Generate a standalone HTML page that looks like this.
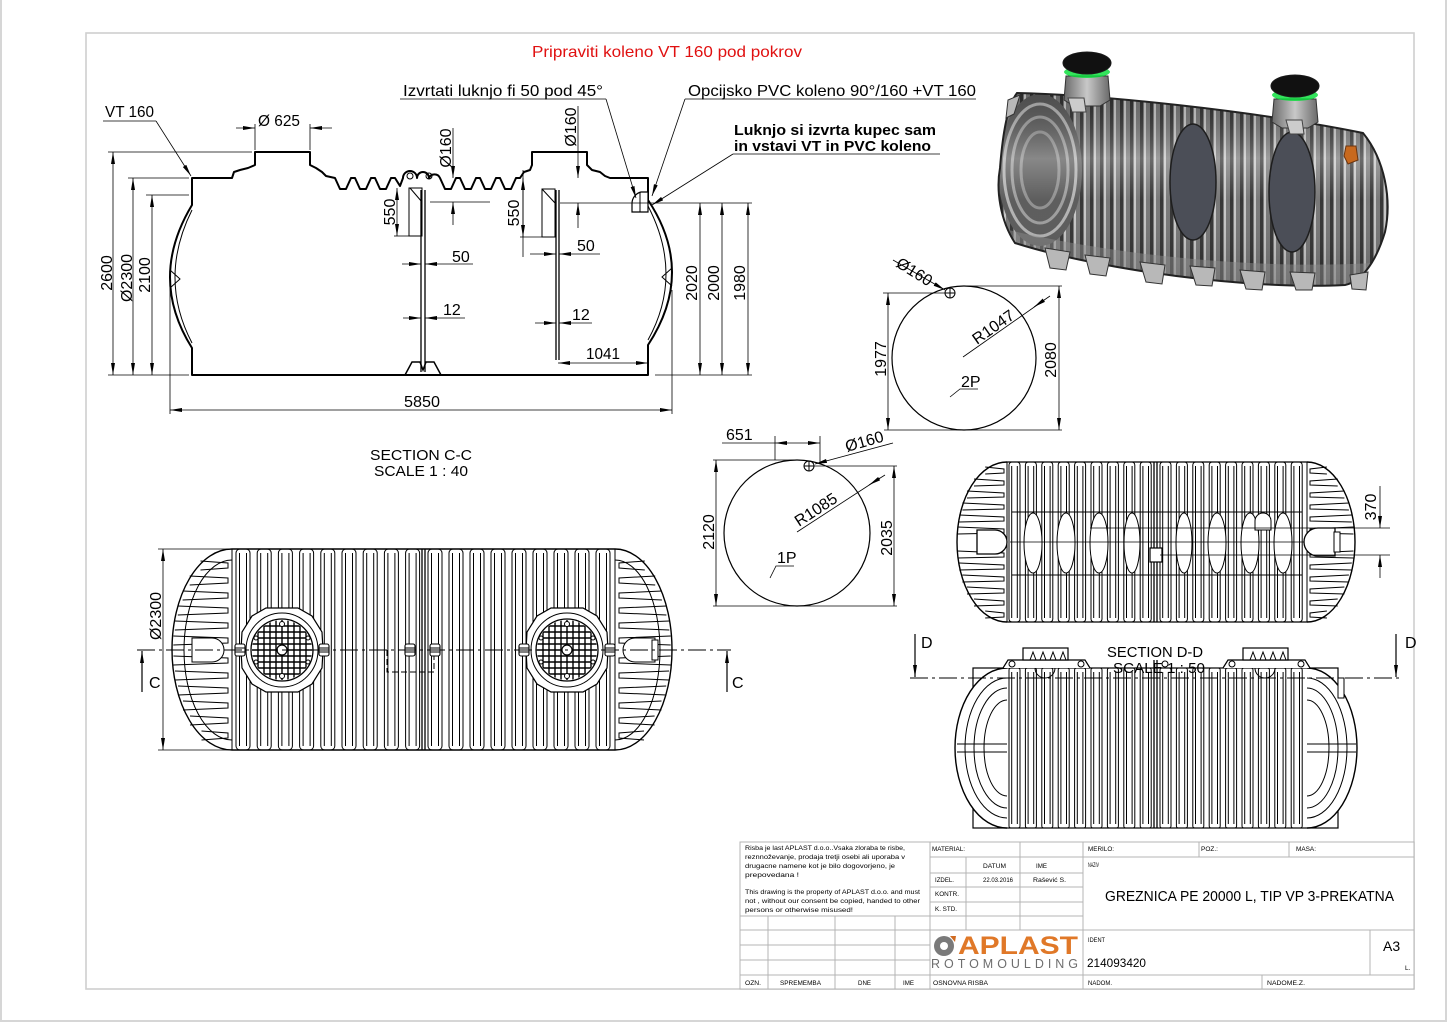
<!DOCTYPE html>
<html><head><meta charset="utf-8"><style>
html,body{margin:0;padding:0;background:#fff;}
svg{display:block;}
text{font-family:"Liberation Sans",sans-serif;fill:#000;}
</style></head><body>
<svg width="1448" height="1024" viewBox="0 0 1448 1024" xmlns="http://www.w3.org/2000/svg">
<defs>
<marker id="ar" viewBox="0 0 12 4" refX="12" refY="2" markerWidth="12" markerHeight="4" markerUnits="userSpaceOnUse" orient="auto-start-reverse"><path d="M0,0 L12,2 L0,4 Z" fill="#000"/></marker>
<pattern id="st" patternUnits="userSpaceOnUse" width="10" height="400"><rect width="10" height="400" fill="#727272"/><rect x="0" width="3" height="400" fill="#2c2c2c"/><rect x="4" width="2" height="400" fill="#c4c4c4"/></pattern>
<linearGradient id="sh" x1="0" y1="0" x2="0" y2="1"><stop offset="0" stop-color="#000" stop-opacity=".1"/><stop offset=".35" stop-color="#fff" stop-opacity=".3"/><stop offset=".55" stop-color="#fff" stop-opacity=".05"/><stop offset="1" stop-color="#000" stop-opacity=".2"/></linearGradient>
<linearGradient id="nk" x1="0" y1="0" x2="1" y2="0"><stop offset="0" stop-color="#6a6a6a"/><stop offset=".5" stop-color="#c8c8c8"/><stop offset="1" stop-color="#6a6a6a"/></linearGradient>
<clipPath id="tk"><path d="M1017,93 C1100,95 1250,110 1363,133 C1385,160 1392,200 1385,232 C1375,265 1360,282 1345,285 C1250,290 1100,270 1015,243 C1000,220 996,190 1000,168 C1003,130 1008,105 1017,93 Z"/></clipPath>
<clipPath id="gc"><circle cx="0" cy="0" r="30"/></clipPath>
<g id="rb"><rect x="0" y="549" width="14" height="201" rx="4"/><line x1="3.5" y1="553" x2="3.5" y2="746"/><line x1="10.5" y1="553" x2="10.5" y2="746"/></g>
<g id="rt"><rect x="0" y="462" width="11" height="160" rx="3"/><line x1="2.7" y1="466" x2="2.7" y2="618"/><line x1="8.3" y1="466" x2="8.3" y2="618"/></g>
<g id="rd"><rect x="0" y="668" width="11" height="160" rx="2"/><line x1="2.7" y1="672" x2="2.7" y2="824"/><line x1="8.3" y1="672" x2="8.3" y2="824"/></g>
<g id="mh">
<path d="M-16,-42 L16,-42 L30,-34 L40,-18 L41,0 L40,18 L30,34 L16,42 L-16,42 L-30,34 L-40,18 L-41,0 L-40,-18 L-30,-34 Z" fill="#fff" stroke="#000" stroke-width="1.2"/>
<ellipse cx="0" cy="0" rx="36" ry="37" fill="none" stroke="#000" stroke-width="1"/>
<circle cx="0" cy="0" r="31" fill="#fff" stroke="#000" stroke-width="1.3"/>
<g clip-path="url(#gc)" stroke="#000" stroke-width="1.4">
<line x1="-31" y1="-24" x2="31" y2="-24"/><line x1="-31" y1="-18" x2="31" y2="-18"/><line x1="-31" y1="-12" x2="31" y2="-12"/><line x1="-31" y1="-6" x2="31" y2="-6"/><line x1="-31" y1="0" x2="31" y2="0"/><line x1="-31" y1="6" x2="31" y2="6"/><line x1="-31" y1="12" x2="31" y2="12"/><line x1="-31" y1="18" x2="31" y2="18"/><line x1="-31" y1="24" x2="31" y2="24"/>
<line x1="-24" y1="-31" x2="-24" y2="31"/><line x1="-18" y1="-31" x2="-18" y2="31"/><line x1="-12" y1="-31" x2="-12" y2="31"/><line x1="-6" y1="-31" x2="-6" y2="31"/><line x1="0" y1="-31" x2="0" y2="31"/><line x1="6" y1="-31" x2="6" y2="31"/><line x1="12" y1="-31" x2="12" y2="31"/><line x1="18" y1="-31" x2="18" y2="31"/><line x1="24" y1="-31" x2="24" y2="31"/>
</g>
<circle cx="0" cy="0" r="5" fill="#fff" stroke="#000" stroke-width="1.2"/>
<circle cx="0" cy="-26" r="2.5" fill="#fff" stroke="#000"/><circle cx="0" cy="26" r="2.5" fill="#fff" stroke="#000"/>
<circle cx="-26" cy="-12" r="2" fill="#fff" stroke="#000"/><circle cx="26" cy="-12" r="2" fill="#fff" stroke="#000"/><circle cx="-26" cy="12" r="2" fill="#fff" stroke="#000"/><circle cx="26" cy="12" r="2" fill="#fff" stroke="#000"/>
</g>
<g id="cn"><rect x="-5" y="-6" width="10" height="12" rx="2" fill="#fff" stroke="#000" stroke-width="1.1"/><line x1="-5" y1="-2" x2="5" y2="-2" stroke="#000"/><line x1="-5" y1="2" x2="5" y2="2" stroke="#000"/></g>
</defs>

<rect x="0" y="0" width="1448" height="1024" fill="#fff"/>
<path d="M1,0 L1,1021 L1446,1021 L1446,0" fill="none" stroke="#d6d6d6" stroke-width="2"/>
<rect x="86" y="33" width="1328" height="956" fill="none" stroke="#cfcfcf" stroke-width="1.6"/>

<text x="532" y="57" font-size="16" fill="#e01010" style="fill:#e01010" textLength="270" lengthAdjust="spacingAndGlyphs">Pripraviti koleno VT 160 pod pokrov</text>

<!-- ================= SECTION C-C ================= -->
<g fill="none" stroke="#000" stroke-width="2" stroke-linejoin="round">
<path d="M192,178 L232,178 L234,172 L240,170 L248,168 L255,165 L255,152 L310,152 L310,165 L316,168 L322,172 L326,176 L335,178 L340,189 L346,189 L351,178 L355,178 L360,189 L366,189 L371,178 L375,178 L380,189 L386,189 L391,178 L395,178 L400,186 L403,178 A7,7 0 0 1 417,178 A6,6 0 0 1 429,178 A6,6 0 0 1 440,178 L445,189 L451,189 L456,178 L460,178 L465,189 L471,189 L476,178 L480,178 L485,189 L491,189 L496,178 L500,178 L505,189 L511,189 L516,178 L520,178 L524,172 L530,170 L532,165 L532,152 L587,152 L587,165 L592,170 L600,172 L605,176 L610,178 L648,178 L648,200 Q696,272 648,345 L648,375 L192,375 L192,348 Q148,278 192,205 Z"/>
</g>
<g fill="none" stroke="#000" stroke-width="1">
<path d="M648,206 Q684,275 648,340"/>
<path d="M192,210 Q158,278 192,343"/>
<path d="M170,270 L180,279 L170,288"/>
<path d="M672,268 L662,277 L672,286"/>
<line x1="421" y1="190" x2="421" y2="372" stroke-width="1.3"/><line x1="425" y1="190" x2="425" y2="372" stroke-width="1.3"/>
<path d="M405,375 L412,362 L420,362 L423,370 L426,362 L434,362 L441,375" stroke-width="1.5"/>
<rect x="409" y="188" width="13" height="48"/><line x1="410" y1="188" x2="422" y2="202"/>
<circle cx="410" cy="176" r="3"/><circle cx="429" cy="176" r="3"/>
<line x1="556" y1="190" x2="556" y2="360" stroke-width="1.3"/><line x1="559" y1="190" x2="559" y2="360" stroke-width="1.3"/>
<rect x="542" y="189" width="13" height="48"/><line x1="542" y1="189" x2="555" y2="203"/>
<path d="M648,192 L641,192 A12,12 0 0 0 632,204 L632,212 L648,212 Z" stroke-width="1.2" fill="#fff"/>
<line x1="640" y1="192" x2="640" y2="212"/>
<line x1="560" y1="203" x2="752" y2="203" stroke-width="0.8"/>
</g>

<g fill="none" stroke="#000" stroke-width="0.8">
<line x1="108" y1="152" x2="252" y2="152"/><line x1="128" y1="178" x2="189" y2="178"/><line x1="146" y1="195" x2="189" y2="195"/><line x1="108" y1="375" x2="189" y2="375"/>
<line x1="113" y1="152" x2="113" y2="375" marker-start="url(#ar)" marker-end="url(#ar)"/>
<line x1="133" y1="178" x2="133" y2="375" marker-start="url(#ar)" marker-end="url(#ar)"/>
<line x1="152" y1="195" x2="152" y2="375" marker-start="url(#ar)" marker-end="url(#ar)"/>
<line x1="255" y1="124" x2="255" y2="150"/><line x1="310" y1="124" x2="310" y2="150"/>
<line x1="236" y1="128" x2="255" y2="128" marker-end="url(#ar)"/><line x1="332" y1="128" x2="310" y2="128" marker-end="url(#ar)"/>
<line x1="170" y1="282" x2="170" y2="414"/><line x1="672" y1="290" x2="672" y2="414"/>
<line x1="170" y1="410" x2="672" y2="410" marker-start="url(#ar)" marker-end="url(#ar)"/>
<line x1="655" y1="375" x2="752" y2="375"/>
<line x1="700" y1="203" x2="700" y2="375" marker-start="url(#ar)" marker-end="url(#ar)"/>
<line x1="722" y1="203" x2="722" y2="375" marker-start="url(#ar)" marker-end="url(#ar)"/>
<line x1="748" y1="203" x2="748" y2="375" marker-start="url(#ar)" marker-end="url(#ar)"/>
<line x1="453" y1="128" x2="453" y2="178" marker-end="url(#ar)"/><line x1="453" y1="225" x2="453" y2="202" marker-end="url(#ar)"/>
<line x1="430" y1="202" x2="490" y2="202"/>
<line x1="578" y1="106" x2="578" y2="178" marker-end="url(#ar)"/><line x1="578" y1="228" x2="578" y2="203" marker-end="url(#ar)"/>
<line x1="397" y1="188" x2="397" y2="236" marker-start="url(#ar)" marker-end="url(#ar)"/>
<line x1="394" y1="236" x2="409" y2="236"/>
<line x1="523" y1="170" x2="523" y2="257"/>
<line x1="523" y1="178" x2="523" y2="237" marker-start="url(#ar)" marker-end="url(#ar)"/>
<line x1="520" y1="237" x2="542" y2="237"/>
<line x1="402" y1="264" x2="421" y2="264" marker-end="url(#ar)"/><line x1="473" y1="264" x2="425" y2="264" marker-end="url(#ar)"/>
<line x1="403" y1="318" x2="421" y2="318" marker-end="url(#ar)"/><line x1="465" y1="318" x2="425" y2="318" marker-end="url(#ar)"/>
<line x1="530" y1="254" x2="556" y2="254" marker-end="url(#ar)"/><line x1="600" y1="254" x2="559" y2="254" marker-end="url(#ar)"/>
<line x1="535" y1="323" x2="556" y2="323" marker-end="url(#ar)"/><line x1="592" y1="323" x2="559" y2="323" marker-end="url(#ar)"/>
<line x1="558" y1="363" x2="648" y2="363" marker-start="url(#ar)" marker-end="url(#ar)"/>
<line x1="103" y1="121" x2="156" y2="121"/><line x1="156" y1="121" x2="191" y2="176" marker-end="url(#ar)"/>
<line x1="400" y1="99" x2="606" y2="99"/><line x1="606" y1="99" x2="636" y2="198" marker-end="url(#ar)"/>
<line x1="685" y1="99" x2="976" y2="99"/><line x1="685" y1="99" x2="652" y2="196" marker-end="url(#ar)"/>
<line x1="733" y1="154" x2="940" y2="154"/><line x1="733" y1="154" x2="652" y2="205" marker-end="url(#ar)"/>
</g>
<g font-size="16">
<text x="105" y="117" textLength="49" lengthAdjust="spacingAndGlyphs">VT 160</text>
<text x="403" y="96" textLength="200" lengthAdjust="spacingAndGlyphs">Izvrtati luknjo fi 50 pod 45°</text>
<text x="688" y="96" textLength="288" lengthAdjust="spacingAndGlyphs">Opcijsko PVC koleno 90°/160 +VT 160</text>
<text x="734" y="135" font-weight="bold" font-size="15" textLength="202" lengthAdjust="spacingAndGlyphs">Luknjo si izvrta kupec sam</text>
<text x="734" y="151" font-weight="bold" font-size="15" textLength="197" lengthAdjust="spacingAndGlyphs">in vstavi VT in PVC koleno</text>
<text x="258" y="126" textLength="42" lengthAdjust="spacingAndGlyphs">Ø 625</text>
<text transform="translate(112,273) rotate(-90)" text-anchor="middle">2600</text>
<text transform="translate(132,278) rotate(-90)" text-anchor="middle">Ø2300</text>
<text transform="translate(150,275) rotate(-90)" text-anchor="middle">2100</text>
<text x="404" y="407" textLength="36" lengthAdjust="spacingAndGlyphs">5850</text>
<text transform="translate(451,148) rotate(-90)" text-anchor="middle">Ø160</text>
<text transform="translate(576,127) rotate(-90)" text-anchor="middle">Ø160</text>
<text transform="translate(395,212) rotate(-90)" text-anchor="middle">550</text>
<text transform="translate(519,213) rotate(-90)" text-anchor="middle">550</text>
<text x="452" y="262">50</text>
<text x="443" y="315">12</text>
<text x="577" y="251">50</text>
<text x="572" y="320">12</text>
<text x="586" y="359" textLength="34" lengthAdjust="spacingAndGlyphs">1041</text>
<text transform="translate(697,283) rotate(-90)" text-anchor="middle">2020</text>
<text transform="translate(719,283) rotate(-90)" text-anchor="middle">2000</text>
<text transform="translate(745,283) rotate(-90)" text-anchor="middle">1980</text>
<text x="370" y="460" font-size="15" textLength="102" lengthAdjust="spacingAndGlyphs">SECTION C-C</text>
<text x="374" y="476" font-size="15" textLength="94" lengthAdjust="spacingAndGlyphs">SCALE 1 : 40</text>
</g>

<!-- ================= 3D render ================= -->
<g>
<path d="M1017,93 C1100,95 1250,110 1363,133 C1385,160 1392,200 1385,232 C1375,265 1360,282 1345,285 C1250,290 1100,270 1015,243 C1000,220 996,190 1000,168 C1003,130 1008,105 1017,93 Z" fill="#6a6a6a"/>
<g clip-path="url(#tk)">
<rect x="995" y="85" width="400" height="210" fill="url(#st)"/>
<ellipse cx="1040" cy="170" rx="42" ry="76" fill="#555"/>
<ellipse cx="1040" cy="170" rx="36" ry="66" fill="none" stroke="#b0b0b0" stroke-width="3"/>
<ellipse cx="1040" cy="170" rx="28" ry="53" fill="none" stroke="#9a9a9a" stroke-width="3"/>
<ellipse cx="1040" cy="170" rx="19" ry="38" fill="none" stroke="#8c8c8c" stroke-width="3"/>
<rect x="995" y="85" width="400" height="210" fill="url(#sh)"/>
<path d="M1000,228 C1100,252 1250,272 1390,262 L1390,300 L1000,300 Z" fill="#8a8a8a" opacity=".5"/>
</g>
<path d="M1017,93 C1100,95 1250,110 1363,133 C1385,160 1392,200 1385,232 C1375,265 1360,282 1345,285 C1250,290 1100,270 1015,243 C1000,220 996,190 1000,168 C1003,130 1008,105 1017,93 Z" fill="none" stroke="#222" stroke-width="2"/>
<g fill="#b8b8b8" stroke="#333" stroke-width="1">
<path d="M1045,248 L1070,252 L1066,270 L1050,268 Z"/>
<path d="M1085,255 L1110,258 L1106,276 L1090,274 Z"/>
<path d="M1140,262 L1165,265 L1162,284 L1146,282 Z"/>
<path d="M1190,266 L1215,268 L1212,286 L1196,285 Z"/>
<path d="M1240,270 L1265,272 L1262,290 L1246,289 Z"/>
<path d="M1290,272 L1315,273 L1312,290 L1296,290 Z"/>
<path d="M1020,95 L1008,100 L1006,118 L1014,114 Z"/>
<path d="M1350,275 L1368,272 L1366,290 L1352,289 Z"/>
</g>
<ellipse cx="1193" cy="182" rx="23" ry="58" fill="#4b4e57" stroke="#1e1e1e" stroke-width="1.5"/>
<ellipse cx="1292" cy="192" rx="23" ry="60" fill="#4b4e57" stroke="#1e1e1e" stroke-width="1.5"/>
<path d="M1066,76 L1108,76 L1110,100 L1100,106 L1074,106 L1064,100 Z" fill="url(#nk)" stroke="#333"/>
<path d="M1068,98 L1084,98 L1086,112 L1072,112 Z" fill="#ccc" stroke="#444"/>
<ellipse cx="1087" cy="72" rx="23" ry="6" fill="#0d3" opacity=".8"/>
<ellipse cx="1087" cy="63" rx="24" ry="11" fill="#111" stroke="#1a1a1a"/>
<path d="M1274,99 L1316,99 L1318,122 L1308,128 L1282,128 L1272,122 Z" fill="url(#nk)" stroke="#333"/>
<path d="M1286,120 L1302,120 L1304,134 L1290,134 Z" fill="#ccc" stroke="#444"/>
<ellipse cx="1295" cy="95" rx="23" ry="6" fill="#0d3" opacity=".8"/>
<ellipse cx="1295" cy="86" rx="24" ry="11" fill="#111" stroke="#1a1a1a"/>
<path d="M1346,146 L1356,146 L1358,160 L1348,164 L1344,156 Z" fill="#c8691e" stroke="#6a3510"/>
</g>

<!-- ================= Circles ================= -->
<g fill="none" stroke="#000" stroke-width="1">
<circle cx="964" cy="358" r="72" stroke-width="1.2"/>
<line x1="883" y1="293" x2="945" y2="293" stroke-width="0.8"/>
<line x1="965" y1="286" x2="1062" y2="286" stroke-width="0.8"/>
<line x1="884" y1="430" x2="1062" y2="430" stroke-width="0.8"/>
<line x1="888" y1="293" x2="888" y2="430" stroke-width="0.8" marker-start="url(#ar)" marker-end="url(#ar)"/>
<line x1="1059" y1="286" x2="1059" y2="430" stroke-width="0.8" marker-start="url(#ar)" marker-end="url(#ar)"/>
<circle cx="950" cy="293" r="5"/><line x1="945" y1="293" x2="955" y2="293"/><line x1="950" y1="288" x2="950" y2="298"/>
<line x1="893" y1="260" x2="945" y2="290" stroke-width="0.8" marker-end="url(#ar)"/>
<line x1="963" y1="357" x2="1040" y2="303" stroke-width="0.8"/>
<line x1="1050" y1="296" x2="1034" y2="307" stroke-width="0.8" marker-end="url(#ar)"/>
<path d="M950,397 L960,389 L978,389" stroke-width="0.8"/>
<circle cx="797" cy="533" r="73" stroke-width="1.2"/>
<line x1="713" y1="460" x2="800" y2="460" stroke-width="0.8"/>
<line x1="813" y1="466" x2="897" y2="466" stroke-width="0.8"/>
<line x1="713" y1="606" x2="897" y2="606" stroke-width="0.8"/>
<line x1="716" y1="460" x2="716" y2="606" stroke-width="0.8" marker-start="url(#ar)" marker-end="url(#ar)"/>
<line x1="894" y1="466" x2="894" y2="606" stroke-width="0.8" marker-start="url(#ar)" marker-end="url(#ar)"/>
<line x1="775" y1="436" x2="775" y2="460" stroke-width="0.8"/><line x1="820" y1="436" x2="820" y2="462" stroke-width="0.8"/>
<line x1="722" y1="443" x2="775" y2="443" stroke-width="0.8"/>
<line x1="775" y1="443" x2="820" y2="443" stroke-width="0.8" marker-start="url(#ar)" marker-end="url(#ar)"/>
<circle cx="809" cy="466" r="5"/><line x1="804" y1="466" x2="814" y2="466"/><line x1="809" y1="461" x2="809" y2="471"/>
<line x1="893" y1="443" x2="815" y2="464" stroke-width="0.8" marker-end="url(#ar)"/>
<line x1="797" y1="532" x2="880" y2="478" stroke-width="0.8"/>
<line x1="885" y1="475" x2="869" y2="485" stroke-width="0.8" marker-end="url(#ar)"/>
<path d="M770,578 L776,566 L794,566" stroke-width="0.8"/>
</g>
<g font-size="16">
<text transform="translate(895,266) rotate(32)">Ø160</text>
<text transform="translate(977,345) rotate(-35)">R1047</text>
<text transform="translate(886,359) rotate(-90)" text-anchor="middle">1977</text>
<text transform="translate(1056,360) rotate(-90)" text-anchor="middle">2080</text>
<text x="961" y="387">2P</text>
<text x="726" y="440">651</text>
<text transform="translate(847,452) rotate(-16)">Ø160</text>
<text transform="translate(799,527) rotate(-33)">R1085</text>
<text transform="translate(714,532) rotate(-90)" text-anchor="middle">2120</text>
<text transform="translate(892,538) rotate(-90)" text-anchor="middle">2035</text>
<text x="777" y="563">1P</text>
</g>

<!-- ================= Plan view (bottom-left) ================= -->
<g fill="none" stroke="#000" stroke-width="1">
<path d="M232,549 A60,100.5 0 0 0 232,750" stroke-width="1.4"/>
<path d="M615,549 A57,100.5 0 0 1 615,750" stroke-width="1.4"/>
<path d="M232,560 A48,90 0 0 0 232,740"/>
<path d="M615,560 A45,90 0 0 1 615,740"/>
<line x1="232" y1="549" x2="615" y2="549" stroke-width="1.4"/>
<line x1="232" y1="750" x2="615" y2="750" stroke-width="1.4"/>
<line x1="232" y1="549" x2="232" y2="750"/><line x1="615" y1="549" x2="615" y2="750"/>
<use href="#rb" x="236"/><use href="#rb" x="257.2"/><use href="#rb" x="278.4"/><use href="#rb" x="299.6"/><use href="#rb" x="320.8"/><use href="#rb" x="342"/><use href="#rb" x="363.2"/><use href="#rb" x="384.4"/><use href="#rb" x="405.6"/>
<use href="#rb" x="428"/><use href="#rb" x="449"/><use href="#rb" x="470"/><use href="#rb" x="491"/><use href="#rb" x="512"/><use href="#rb" x="533"/><use href="#rb" x="554"/><use href="#rb" x="575"/><use href="#rb" x="596"/>
<line x1="422" y1="549" x2="422" y2="750" stroke-width="1.3"/><line x1="425" y1="549" x2="425" y2="750" stroke-width="1.3"/>
<path d="M200.5,561 L228,563 L228,568 L200.5,570"/><path d="M189.7,576 L228,578 L228,583 L189.7,585"/><path d="M182.6,591 L228,593 L228,598 L182.6,600"/><path d="M177.8,606 L228,608 L228,613 L177.8,615"/><path d="M174.8,621 L228,623 L228,628 L174.8,630"/><path d="M173.3,636 L228,638 L228,643 L173.3,645"/>
<path d="M173.4,656 L228,658 L228,663 L173.4,665"/><path d="M175,671 L228,673 L228,678 L175,680"/><path d="M178,686 L228,688 L228,693 L178,695"/><path d="M183,701 L228,703 L228,708 L183,710"/><path d="M190,716 L228,718 L228,723 L190,725"/><path d="M201.5,731 L228,733 L228,738 L201.5,740"/>
<path d="M644.8,561 L619,563 L619,568 L644.8,570"/><path d="M655.2,576 L619,578 L619,583 L655.2,585"/><path d="M661.9,591 L619,593 L619,598 L661.9,600"/><path d="M666.4,606 L619,608 L619,613 L666.4,615"/><path d="M669.3,621 L619,623 L619,628 L669.3,630"/><path d="M670.7,636 L619,638 L619,643 L670.7,645"/>
<path d="M670.7,656 L619,658 L619,663 L670.7,665"/><path d="M669.1,671 L619,673 L619,678 L669.1,680"/><path d="M666.2,686 L619,688 L619,693 L666.2,695"/><path d="M661.5,701 L619,703 L619,708 L661.5,710"/><path d="M654.6,716 L619,718 L619,723 L654.6,725"/><path d="M644,731 L619,733 L619,738 L644,740"/>
<path d="M192,638 L212,638 A12,12 0 0 1 212,662 L192,662 Z" fill="#fff"/>
<path d="M655,638 L635,638 A12,12 0 0 0 635,662 L655,662 Z" fill="#fff"/>
<rect x="652" y="640" width="6" height="20" fill="#fff"/>
<path d="M387,650 L387,672 L434,672 L434,650" stroke-dasharray="6,3"/>
</g>
<use href="#mh" transform="translate(282,650)"/>
<use href="#mh" transform="translate(567,650)"/>
<use href="#cn" transform="translate(240,650)"/><use href="#cn" transform="translate(324,650)"/><use href="#cn" transform="translate(410,650)"/><use href="#cn" transform="translate(435,650)"/><use href="#cn" transform="translate(524,650)"/><use href="#cn" transform="translate(610,650)"/>
<g fill="none" stroke="#000" stroke-width="0.8">
<line x1="137" y1="650" x2="731" y2="650" stroke-dasharray="18,4,3,4" stroke-width="1"/>
<line x1="158" y1="549" x2="232" y2="549"/><line x1="158" y1="750" x2="232" y2="750"/>
<line x1="163" y1="549" x2="163" y2="750" marker-start="url(#ar)" marker-end="url(#ar)"/>
<line x1="142" y1="692" x2="142" y2="651" stroke-width="1.2" marker-end="url(#ar)"/>
<line x1="727" y1="692" x2="727" y2="651" stroke-width="1.2" marker-end="url(#ar)"/>
</g>
<g font-size="16">
<text transform="translate(161,616) rotate(-90)" text-anchor="middle">Ø2300</text>
<text x="149" y="688">C</text>
<text x="732" y="688">C</text>
</g>

<!-- ================= Top view right ================= -->
<g fill="none" stroke="#000" stroke-width="1">
<path d="M1007,462 A50,80 0 0 0 1007,622" stroke-width="1.4"/>
<path d="M1307,462 A48,80 0 0 1 1307,622" stroke-width="1.4"/>
<line x1="1007" y1="462" x2="1307" y2="462" stroke-width="1.3"/>
<line x1="1007" y1="622" x2="1307" y2="622" stroke-width="1.3"/>
<line x1="1007" y1="462" x2="1007" y2="622"/><line x1="1307" y1="462" x2="1307" y2="622"/>
<use href="#rt" x="1009"/><use href="#rt" x="1025.4"/><use href="#rt" x="1041.8"/><use href="#rt" x="1058.2"/><use href="#rt" x="1074.6"/><use href="#rt" x="1091"/><use href="#rt" x="1107.4"/><use href="#rt" x="1123.8"/><use href="#rt" x="1140.2"/>
<use href="#rt" x="1160"/><use href="#rt" x="1176.4"/><use href="#rt" x="1192.8"/><use href="#rt" x="1209.2"/><use href="#rt" x="1225.6"/><use href="#rt" x="1242"/><use href="#rt" x="1258.4"/><use href="#rt" x="1274.8"/><use href="#rt" x="1291.2"/>
<line x1="1154" y1="462" x2="1154" y2="622" stroke-width="1.3"/><line x1="1157" y1="462" x2="1157" y2="622" stroke-width="1.3"/>
<path d="M1012,512 L1302,512 M1012,575 L1302,575"/>
<g fill="#fff">
<ellipse cx="1033" cy="543" rx="9" ry="30"/><ellipse cx="1066" cy="543" rx="9" ry="30"/><ellipse cx="1099" cy="543" rx="9" ry="30"/><ellipse cx="1132" cy="543" rx="8" ry="30"/>
<ellipse cx="1184" cy="543" rx="8" ry="30"/><ellipse cx="1217" cy="543" rx="9" ry="30"/><ellipse cx="1250" cy="543" rx="9" ry="30"/><ellipse cx="1283" cy="543" rx="9" ry="30"/>
</g>
<path d="M1010,542 L1304,542" stroke-width="0.8"/>
<path d="M985.2,467 L1004,469 L1004,473 L985.2,474"/><path d="M974,479 L1004,481 L1004,485 L974,486"/><path d="M967,491 L1004,493 L1004,497 L967,498"/><path d="M962.4,503 L1004,505 L1004,509 L962.4,510"/><path d="M959.3,515 L1004,517 L1004,521 L959.3,522"/><path d="M957.6,527 L1004,529 L1004,533 L957.6,534"/>
<path d="M957.6,551 L1004,553 L1004,557 L957.6,558"/><path d="M959.3,563 L1004,565 L1004,569 L959.3,570"/><path d="M962.4,575 L1004,577 L1004,581 L962.4,582"/><path d="M967,587 L1004,589 L1004,593 L967,594"/><path d="M974,599 L1004,601 L1004,605 L974,606"/><path d="M985.2,611 L1004,613 L1004,617 L985.2,618"/>
<path d="M1326.9,467 L1310,469 L1310,473 L1326.9,474"/><path d="M1337.7,479 L1310,481 L1310,485 L1337.7,486"/><path d="M1344.4,491 L1310,493 L1310,497 L1344.4,498"/><path d="M1348.9,503 L1310,505 L1310,509 L1348.9,510"/><path d="M1351.8,515 L1310,517 L1310,521 L1351.8,522"/><path d="M1353.5,527 L1310,529 L1310,533 L1353.5,534"/>
<path d="M1353.5,551 L1310,553 L1310,557 L1353.5,558"/><path d="M1351.8,563 L1310,565 L1310,569 L1351.8,570"/><path d="M1348.9,575 L1310,577 L1310,581 L1348.9,582"/><path d="M1344.4,587 L1310,589 L1310,593 L1344.4,594"/><path d="M1337.7,599 L1310,601 L1310,605 L1337.7,606"/><path d="M1326.9,611 L1310,613 L1310,617 L1326.9,618"/>
<path d="M977,530 L995,530 A12,12 0 0 1 995,554 L977,554 Z" fill="#fff" stroke-width="1.3"/>
<path d="M1335,528 L1318,528 A12,12 0 0 0 1318,556 L1335,556 Z" fill="#fff" stroke-width="1.3"/>
<rect x="1334" y="532" width="6" height="20" fill="#fff"/>
<rect x="1150" y="548" width="12" height="14" fill="#fff" stroke-width="1.2"/>
<path d="M1255,521 A8,8 0 0 1 1271,521 L1271,530 L1255,530 Z" fill="#fff"/>
<line x1="1090" y1="528" x2="1390" y2="528" stroke-width="0.8"/>
<line x1="1160" y1="555" x2="1390" y2="555" stroke-width="0.8"/>
<line x1="1380" y1="486" x2="1380" y2="528" stroke-width="0.8" marker-end="url(#ar)"/>
<line x1="1380" y1="578" x2="1380" y2="555" stroke-width="0.8" marker-end="url(#ar)"/>
</g>
<text transform="translate(1376,507) rotate(-90)" text-anchor="middle" font-size="16">370</text>

<!-- ================= Section D-D ================= -->
<g fill="none" stroke="#000" stroke-width="1">
<rect x="973" y="668" width="365" height="160" stroke-width="1.2"/>
<path d="M1007,668 A52,80 0 0 0 1007,828" fill="#fff" stroke-width="1.4"/>
<path d="M1307,668 A50,80 0 0 1 1307,828" fill="#fff" stroke-width="1.4"/>
<path d="M1007,678 A42,70 0 0 0 1007,818"/><path d="M1007,688 A33,60 0 0 0 1007,808"/><path d="M1007,700 A23,48 0 0 0 1007,796"/>
<path d="M1307,678 A40,70 0 0 1 1307,818"/><path d="M1307,688 A31,60 0 0 1 1307,808"/><path d="M1307,700 A22,48 0 0 1 1307,796"/>
<path d="M957,744 L1007,744 M957,752 L1007,752 M1307,744 L1356,744 M1307,752 L1356,752"/>
<use href="#rd" x="1009"/><use href="#rd" x="1025.4"/><use href="#rd" x="1041.8"/><use href="#rd" x="1058.2"/><use href="#rd" x="1074.6"/><use href="#rd" x="1091"/><use href="#rd" x="1107.4"/><use href="#rd" x="1123.8"/><use href="#rd" x="1140.2"/>
<use href="#rd" x="1160"/><use href="#rd" x="1176.4"/><use href="#rd" x="1192.8"/><use href="#rd" x="1209.2"/><use href="#rd" x="1225.6"/><use href="#rd" x="1242"/><use href="#rd" x="1258.4"/><use href="#rd" x="1274.8"/><use href="#rd" x="1291.2"/>
<line x1="1154" y1="660" x2="1154" y2="828" stroke-width="1.3"/><line x1="1157" y1="660" x2="1157" y2="828" stroke-width="1.3"/>
<path d="M1003,668 L1008,660 L1085,660 L1090,668" fill="#fff" stroke-width="1.2"/>
<rect x="1023" y="648" width="45" height="12" fill="#fff" stroke-width="1.2"/>
<path d="M1030,660 L1033,652 L1036,660 M1040,660 L1043,652 L1046,660 M1050,660 L1053,652 L1056,660 M1060,660 L1063,652 L1066,660"/>
<path d="M1035,668 A10,10 0 0 0 1055,668" />
<circle cx="1012" cy="664" r="3" fill="#fff"/><circle cx="1081" cy="664" r="3" fill="#fff"/>
<path d="M1223,668 L1228,660 L1305,660 L1310,668" fill="#fff" stroke-width="1.2"/>
<rect x="1243" y="648" width="45" height="12" fill="#fff" stroke-width="1.2"/>
<path d="M1250,660 L1253,652 L1256,660 M1260,660 L1263,652 L1266,660 M1270,660 L1273,652 L1276,660 M1280,660 L1283,652 L1286,660"/>
<path d="M1255,668 A10,10 0 0 0 1275,668"/>
<circle cx="1232" cy="664" r="3" fill="#fff"/><circle cx="1301" cy="664" r="3" fill="#fff"/>
<circle cx="1165" cy="664" r="3" fill="#fff"/>
<rect x="1338" y="678" width="6" height="20" fill="#fff"/>
<line x1="910" y1="678" x2="1400" y2="678" stroke-dasharray="18,4,3,4"/>
<line x1="915" y1="634" x2="915" y2="677" stroke-width="1.2" marker-end="url(#ar)"/>
<line x1="1396" y1="634" x2="1396" y2="677" stroke-width="1.2" marker-end="url(#ar)"/>
</g>
<g font-size="16">
<text x="921" y="648">D</text>
<text x="1405" y="648">D</text>
<text x="1107" y="657" font-size="15" textLength="96" lengthAdjust="spacingAndGlyphs">SECTION D-D</text>
<text x="1113" y="673" font-size="15" textLength="92" lengthAdjust="spacingAndGlyphs">SCALE 1 : 50</text>
</g>

<!-- ================= Title block ================= -->
<rect x="740" y="842" width="674" height="147" fill="#fff"/>
<g fill="none" stroke="#b4b4b4" stroke-width="1">
<rect x="740" y="842" width="674" height="147"/>
<line x1="930" y1="842" x2="930" y2="989"/>
<line x1="1083" y1="842" x2="1083" y2="989"/>
<line x1="966" y1="857" x2="966" y2="930"/>
<line x1="1020" y1="842" x2="1020" y2="930"/>
<line x1="1199" y1="842" x2="1199" y2="857"/>
<line x1="1289" y1="842" x2="1289" y2="857"/>
<line x1="930" y1="857" x2="1414" y2="857"/>
<line x1="930" y1="873" x2="1083" y2="873"/>
<line x1="930" y1="887" x2="1083" y2="887"/>
<line x1="930" y1="902" x2="1083" y2="902"/>
<line x1="740" y1="916" x2="1083" y2="916"/>
<line x1="740" y1="930" x2="1414" y2="930"/>
<line x1="740" y1="945" x2="930" y2="945"/>
<line x1="740" y1="960" x2="930" y2="960"/>
<line x1="740" y1="975" x2="1414" y2="975"/>
<line x1="768" y1="916" x2="768" y2="989"/>
<line x1="835" y1="916" x2="835" y2="989"/>
<line x1="895" y1="916" x2="895" y2="989"/>
<line x1="1370" y1="930" x2="1370" y2="975"/>
<line x1="1262" y1="975" x2="1262" y2="989"/>
</g>
<g font-size="6.5">
<text x="745" y="850" textLength="160" lengthAdjust="spacingAndGlyphs">Risba je last APLAST d.o.o..Vsaka zloraba te risbe,</text>
<text x="745" y="859" textLength="160" lengthAdjust="spacingAndGlyphs">reznnoževanje, prodaja tretji osebi ali uporaba v</text>
<text x="745" y="868" textLength="150" lengthAdjust="spacingAndGlyphs">drugacne namene kot je bilo dogovorjeno, je</text>
<text x="745" y="877" textLength="54" lengthAdjust="spacingAndGlyphs">prepovedana !</text>
<text x="745" y="894" textLength="175" lengthAdjust="spacingAndGlyphs">This drawing is the property of APLAST d.o.o. and must</text>
<text x="745" y="903" textLength="175" lengthAdjust="spacingAndGlyphs">not , without our consent be copied, handed to other</text>
<text x="745" y="912" textLength="108" lengthAdjust="spacingAndGlyphs">persons or otherwise misused!</text>
<text x="932" y="851" textLength="33" lengthAdjust="spacingAndGlyphs">MATERIAL:</text>
<text x="983" y="868" textLength="23" lengthAdjust="spacingAndGlyphs">DATUM</text>
<text x="1036" y="868" textLength="11" lengthAdjust="spacingAndGlyphs">IME</text>
<text x="935" y="882" textLength="19" lengthAdjust="spacingAndGlyphs">IZDEL.</text>
<text x="983" y="882" textLength="30" lengthAdjust="spacingAndGlyphs">22.03.2016</text>
<text x="1033" y="882" textLength="33" lengthAdjust="spacingAndGlyphs">Rašević S.</text>
<text x="935" y="896" textLength="24" lengthAdjust="spacingAndGlyphs">KONTR.</text>
<text x="935" y="911" textLength="22" lengthAdjust="spacingAndGlyphs">K. STD.</text>
<text x="1088" y="851" textLength="26" lengthAdjust="spacingAndGlyphs">MERILO:</text>
<text x="1201" y="851" textLength="17" lengthAdjust="spacingAndGlyphs">POZ.:</text>
<text x="1296" y="851" textLength="20" lengthAdjust="spacingAndGlyphs">MASA:</text>
<text x="1088" y="867" textLength="11" lengthAdjust="spacingAndGlyphs">NAZIV</text>
<text x="1088" y="942" textLength="17" lengthAdjust="spacingAndGlyphs">IDENT</text>
<text x="1405" y="970">L.</text>
<text x="745" y="985" textLength="16" lengthAdjust="spacingAndGlyphs">OZN.</text>
<text x="780" y="985" textLength="41" lengthAdjust="spacingAndGlyphs">SPREMEMBA</text>
<text x="858" y="985" textLength="13" lengthAdjust="spacingAndGlyphs">DNE</text>
<text x="903" y="985" textLength="11" lengthAdjust="spacingAndGlyphs">IME</text>
<text x="933" y="985" textLength="55" lengthAdjust="spacingAndGlyphs">OSNOVNA RISBA</text>
<text x="1088" y="985" textLength="24" lengthAdjust="spacingAndGlyphs">NADOM.</text>
<text x="1267" y="985" textLength="38" lengthAdjust="spacingAndGlyphs">NADOME.Z.</text>
</g>
<text x="1105" y="901" font-size="15" textLength="289" lengthAdjust="spacingAndGlyphs">GREZNICA  PE 20000 L, TIP VP  3-PREKATNA</text>
<text x="1087" y="967" font-size="12" textLength="59" lengthAdjust="spacingAndGlyphs">214093420</text>
<text x="1383" y="951" font-size="14">A3</text>
<circle cx="944" cy="946" r="10" fill="#7a7a7a"/>
<circle cx="944" cy="946" r="4" fill="#fff"/>
<path d="M950,936 L956,936 L955,942 Z" fill="#d06a20"/>
<text x="958" y="954" font-size="25" font-weight="bold" style="fill:#e07828" textLength="120" lengthAdjust="spacingAndGlyphs">APLAST</text>
<text x="931" y="968" font-size="12.5" style="fill:#6e6e6e" textLength="147" lengthAdjust="spacing">ROTOMOULDING</text>
</svg>
</body></html>
